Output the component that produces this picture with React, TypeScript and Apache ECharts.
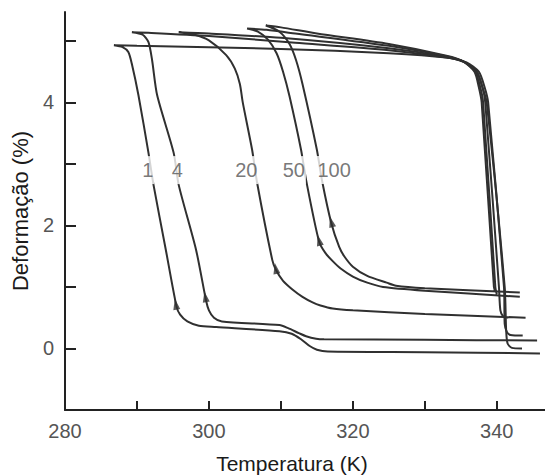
import React, { useEffect, useRef } from "react";
import * as echarts from "echarts";

// Hysteresis loops (temperature K, deformation %)
const loop1: number[][] = [
  [346.0, -0.08], [330, -0.06], [316.5, -0.05], [315.0, -0.02], [314.0, 0.04], [312.8, 0.15], [311.5, 0.24],
  [309.8, 0.28], [301.0, 0.35], [298.6, 0.37], [297.0, 0.44], [296.0, 0.55], [295.5, 0.68], [294.0, 1.61],
  [292.3, 2.66], [291.6, 3.18], [290.2, 4.12], [289.3, 4.62], [288.8, 4.82], [288.0, 4.9], [286.8, 4.93],
  [290, 4.92], [310, 4.87], [325, 4.8], [333, 4.73], [335.5, 4.66], [337.2, 4.5], [338.0, 4.25], [338.6, 4.0],
  [341.1, 1.0], [341.3, 0.3], [341.5, 0.08], [342.1, 0.01], [343.5, 0.0],
];
const loop4: number[][] = [
  [345.6, 0.13], [330, 0.14], [316, 0.15], [314.9, 0.16], [313.5, 0.2], [312.5, 0.25], [311, 0.33],
  [309.8, 0.38], [301.8, 0.44], [300.7, 0.5], [300.0, 0.62], [299.6, 0.78], [298.2, 1.61], [295.8, 2.66],
  [295.1, 3.18], [292.8, 4.12], [292.1, 4.69], [291.6, 4.98], [290.8, 5.1], [289.3, 5.14],
  [292, 5.13], [300, 5.08], [312, 4.97], [325, 4.85], [333, 4.73], [335.8, 4.65], [337.5, 4.5], [338.3, 4.25],
  [338.8, 4.0], [341.0, 1.0], [341.1, 0.4], [341.4, 0.27], [341.9, 0.22], [343.6, 0.21],
];
const loop20: number[][] = [
  [344.0, 0.5], [330, 0.56], [320, 0.62], [317.2, 0.65], [315.5, 0.7], [314.4, 0.75], [313, 0.84], [311.6, 0.96],
  [310.3, 1.1], [309.3, 1.28], [308.8, 1.44], [306.7, 2.69], [306.0, 3.23], [304.7, 4.0], [304.3, 4.3],
  [303.6, 4.55], [302.4, 4.77], [300.0, 5.01], [298, 5.1], [295.8, 5.14],
  [300, 5.12], [310, 5.05], [325, 4.88], [333, 4.74], [335.6, 4.65], [337.2, 4.5], [338, 4.25], [338.4, 4.0],
  [340.3, 1.0], [340.5, 0.62], [340.9, 0.52], [341.6, 0.5],
];
const loop50: number[][] = [
  [343.2, 0.84], [330, 0.94], [324.2, 1.0], [322, 1.07], [320.0, 1.17], [318.3, 1.3], [317.2, 1.42],
  [316.2, 1.55], [315.3, 1.74], [313.5, 2.74], [312.8, 3.23], [311.2, 4.1], [310.3, 4.5], [309.4, 4.8],
  [308.2, 5.02], [306.8, 5.15], [305.3, 5.2],
  [308, 5.18], [312, 5.12], [325, 4.92], [333, 4.75], [335.4, 4.66], [337, 4.5], [337.7, 4.25], [338.1, 4.0],
  [339.8, 1.0], [340.0, 0.88],
];
const loop100: number[][] = [
  [343.2, 0.91], [330, 0.98], [326, 1.02], [324.7, 1.07], [322, 1.18], [320.0, 1.33], [318.8, 1.5],
  [318.1, 1.65], [317.0, 2.04], [315.7, 2.74], [315.0, 3.23], [313.0, 4.3], [312.1, 4.69], [311.2, 4.95],
  [309.8, 5.15], [307.9, 5.25],
  [310, 5.22], [315, 5.12], [325, 4.95], [333, 4.76], [335.3, 4.67], [336.9, 4.5], [337.5, 4.25], [337.9, 4.0],
  [339.6, 1.0], [339.8, 0.92],
];

const cycleLabels = ["1", "4", "20", "50", "100"];
const labelPositions: number[][] = [
  [291.5, 2.9], [295.6, 2.9], [305.2, 2.9], [311.8, 2.9], [317.4, 2.9],
];
const arrowPositions: number[][] = [
  [295.4, 0.72], [299.5, 0.84], [309.3, 1.3], [315.3, 1.76], [317.0, 2.06],
];
const arrowRotations = [10, 10, 11, 14, 15];

const xTickValues = [290, 300, 310, 320, 330, 340];
const xLabelValues = [280, 300, 320, 340];
const yTickValues = [0, 1, 2, 3, 4, 5];
const yLabelValues = [0, 2, 4];

const FONT = "'Liberation Sans', Arial, sans-serif";
const LINE = "#303030";

export default function App() {
  const ref = useRef<HTMLDivElement>(null);
  useEffect(() => {
    if (!ref.current) return;
    const chart = echarts.init(ref.current, null, { renderer: "svg" });
    const loops = [loop1, loop4, loop20, loop50, loop100];
    const lineSeries = loops.map((d, i) => ({
      type: "line",
      name: cycleLabels[i],
      data: d,
      showSymbol: false,
      symbol: "none",
      smooth: 0.25,
      lineStyle: { color: LINE, width: 2 },
      z: 2,
    }));
    chart.setOption({
      animation: false,
      grid: { left: 65, right: 0, top: 12, bottom: 65, containLabel: false, outerBoundsMode: "none" },
      xAxis: {
        type: "value",
        min: 280,
        max: 346.7,
        name: "Temperatura (K)",
        nameLocation: "middle",
        nameGap: 43,
        nameTextStyle: { fontFamily: FONT, fontSize: 21, color: "#1a1a1a", padding: [0, 26, 0, 0] },
        axisLine: { show: true, onZero: false, lineStyle: { color: "#222", width: 2 } },
        axisTick: { show: true, inside: true, length: 9, customValues: xTickValues, lineStyle: { color: "#222", width: 2 } },
        axisLabel: { customValues: xLabelValues, color: "#555", fontSize: 20, fontFamily: FONT, margin: 11 },
        splitLine: { show: false },
      },
      yAxis: {
        type: "value",
        min: -1,
        max: 5.47,
        name: "Deformação (%)",
        nameLocation: "middle",
        nameGap: 32,
        nameRotate: 90,
        nameTextStyle: { fontFamily: FONT, fontSize: 22, color: "#1a1a1a" },
        axisLine: { show: true, onZero: false, lineStyle: { color: "#222", width: 2 } },
        axisTick: { show: true, inside: true, length: 11, customValues: yTickValues, lineStyle: { color: "#222", width: 2 } },
        axisLabel: { customValues: yLabelValues, color: "#555", fontSize: 20, fontFamily: FONT, margin: 11 },
        splitLine: { show: false },
      },
      series: [
        ...lineSeries,
        {
          type: "scatter",
          data: arrowPositions.map((p, i) => ({ value: p, symbolRotate: arrowRotations[i] })),
          symbol: "triangle",
          symbolSize: [7, 11],
          itemStyle: { color: LINE },
          z: 3,
        },
        {
          type: "scatter",
          data: labelPositions.map((p, i) => ({ value: p, name: cycleLabels[i] })),
          symbolSize: 1,
          itemStyle: { color: "transparent" },
          label: {
            show: true,
            position: "inside",
            formatter: "{b}",
            color: "#555",
            fontSize: 20,
            fontFamily: FONT,
            backgroundColor: "#fff",
            padding: [4, 1],
          },
          z: 5,
        },
      ],
    });
    return () => chart.dispose();
  }, []);
  return (
    <div
      ref={ref}
      style={{ position: "absolute", left: 0, top: 0, width: 545, height: 475, background: "#fff" }}
    />
  );
}
